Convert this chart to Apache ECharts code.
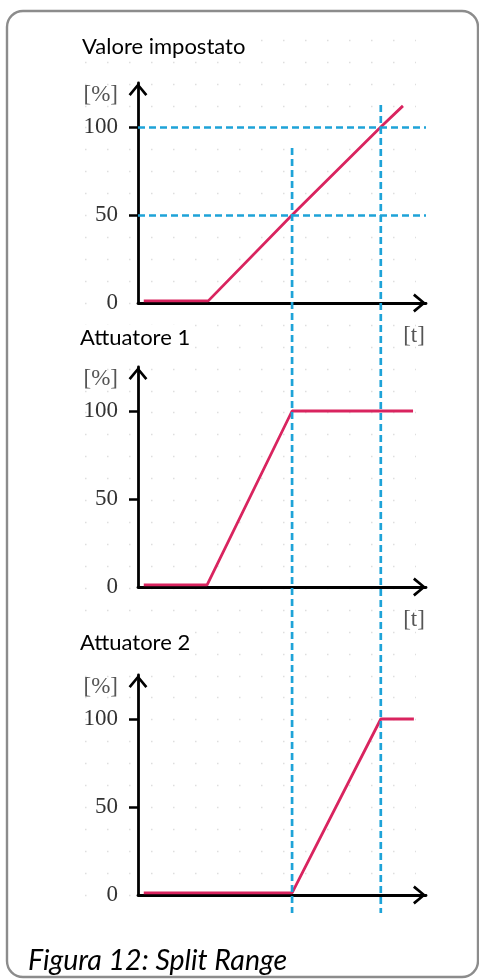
<!DOCTYPE html>
<html><head><meta charset="utf-8">
<script src="https://cdn.jsdelivr.net/npm/echarts@6/dist/echarts.min.js"></script>
<style>html,body{margin:0;padding:0;background:#fff}#c{width:479px;height:979px}</style>
</head><body><div id="c"></div>
<script>
// ---- data ----
const chartTitles = ['Valore impostato', 'Attuatore 1', 'Attuatore 2'];
const caption = 'Figura 12: Split Range';
const yUnit = '[%]';
const xUnit = '[t]';
const yTickValues = [50, 100];
const yLabelValues = [0, 50, 100];
const setpointT = [2, 24.4, 53.5, 84.3, 92];
const setpointV = [1.2, 1.2, 50, 100, 112];
const act1T = [2, 24, 53.5, 95.5];
const act1V = [1.2, 1.2, 100, 100];
const act2T = [2, 53.5, 84.3, 95.8];
const act2V = [1.2, 1.2, 100, 100];
const splitLevels = [50, 100];
const splitTimes = [53.5, 84.3];
const splitTopValues = [88, 112.5];

// ---- layout / style ----
const RED = '#d9245f', BLUE = '#1ea3d8';
const gridTops = [83, 367, 675];
const GL = 138, GW = 288, GH = 220;
const YMAX = 125;
const overlayMin = -346.6;
const chevron = 'path://M0,12 L10,0 L20,12 L17.8,13.8 L10,4.3 L2.2,13.8 Z';
const serif = 'Liberation Serif';
const sans = 'Lato';

const series = [[setpointT, setpointV], [act1T, act1V], [act2T, act2V]];

const grids = [], xAxes = [], yAxes = [], ser = [];
gridTops.forEach((top, i) => {
  grids.push({left: GL, top: top, width: GW, height: GH});
  xAxes.push({
    gridIndex: i, type: 'value', min: 0, max: 100,
    axisLine: {show: true, onZero: false, lineStyle: {color: '#000', width: 2.8},
      symbol: ['none', chevron], symbolSize: [21, 13], symbolOffset: [0, -6.5]},
    axisTick: {show: false}, axisLabel: {show: false}, splitLine: {show: false},
    name: i < 2 ? xUnit : '', nameLocation: 'end', nameGap: -12,
    nameTextStyle: {fontFamily: serif, fontSize: 23, color: '#555', align: 'center',
      verticalAlign: 'top', padding: [21, 0, 0, 0]}
  });
  yAxes.push({
    gridIndex: i, type: 'value', min: 0, max: YMAX,
    axisLine: {show: true, lineStyle: {color: '#000', width: 2.8},
      symbol: ['none', chevron], symbolSize: [21, 13], symbolOffset: [0, -6.5]},
    axisTick: {show: true, length: 9, customValues: yTickValues, lineStyle: {color: '#000', width: 2.5}},
    axisLabel: {show: true, customValues: yLabelValues, margin: 20, fontFamily: serif, fontSize: 23, color: '#333'},
    splitLine: {show: false},
    name: yUnit, nameLocation: 'end', nameGap: -12,
    nameTextStyle: {fontFamily: serif, fontSize: 23, color: '#555', align: 'right',
      verticalAlign: 'middle', padding: [0, 20, 0, 0]}
  });
  const [T, V] = series[i];
  const s = {
    type: 'line', xAxisIndex: i, yAxisIndex: i, showSymbol: false, silent: true,
    data: T.map((t, k) => [t, V[k]]),
    lineStyle: {color: RED, width: 2.8}, z: 3
  };
  if (i === 0) {
    s.markLine = {silent: true, symbol: 'none', label: {show: false},
      lineStyle: {color: BLUE, width: 2.7, type: [7, 4]},
      data: splitLevels.map(v => ({yAxis: v}))};
  }
  ser.push(s);
});

// overlay grid for vertical guides spanning all three charts
grids.push({left: GL, top: gridTops[0], width: GW, height: 830});
xAxes.push({gridIndex: 3, type: 'value', min: 0, max: 100, show: false});
yAxes.push({gridIndex: 3, type: 'value', min: overlayMin, max: YMAX, show: false});
splitTimes.forEach((t, k) => {
  ser.push({type: 'line', xAxisIndex: 3, yAxisIndex: 3, showSymbol: false, silent: true,
    data: [[t, splitTopValues[k]], [t, overlayMin]],
    lineStyle: {color: BLUE, width: 2.7, type: [7, 4]}, z: 5});
});

// faint dotted background lattice
grids.push({left: 85, top: 40, width: 331, height: 855});
xAxes.push({gridIndex: 4, type: 'value', min: 0, max: 1, show: false});
yAxes.push({gridIndex: 4, type: 'value', min: 0, max: 39, interval: 1,
  axisLine: {show: false}, axisTick: {show: false}, axisLabel: {show: false},
  splitLine: {show: true, lineStyle: {color: '#dedede', width: 1.3, type: [1.5, 20.5], dashOffset: 0}}, z: 0});

const titleStyle = {fontFamily: sans, fontSize: 22, fontWeight: 'normal', color: '#000'};
const option = {
  backgroundColor: '#fff',
  animation: false,
  title: [
    {text: chartTitles[0], left: 78, top: 34, padding: [2, 4], backgroundColor: '#fff', textStyle: titleStyle},
    {text: chartTitles[1], left: 76, top: 325, padding: [2, 4], backgroundColor: '#fff', textStyle: titleStyle},
    {text: chartTitles[2], left: 76, top: 630, padding: [2, 4], backgroundColor: '#fff', textStyle: titleStyle},
    {text: caption, left: 24, top: 944, padding: [2, 4], textStyle: {fontFamily: sans, fontSize: 28.5, fontStyle: 'italic', fontWeight: 'normal', color: '#000'}}
  ],
  grid: grids, xAxis: xAxes, yAxis: yAxes, series: ser,
  graphic: [{type: 'rect', silent: true, z: 100,
    shape: {x: 7, y: 11, width: 471, height: 966, r: 16},
    style: {fill: 'none', stroke: '#8c8c8c', lineWidth: 2.4}}]
};
const chart = echarts.init(document.getElementById('c'), null, {renderer: 'canvas'});
chart.setOption(option);
</script></body></html>
